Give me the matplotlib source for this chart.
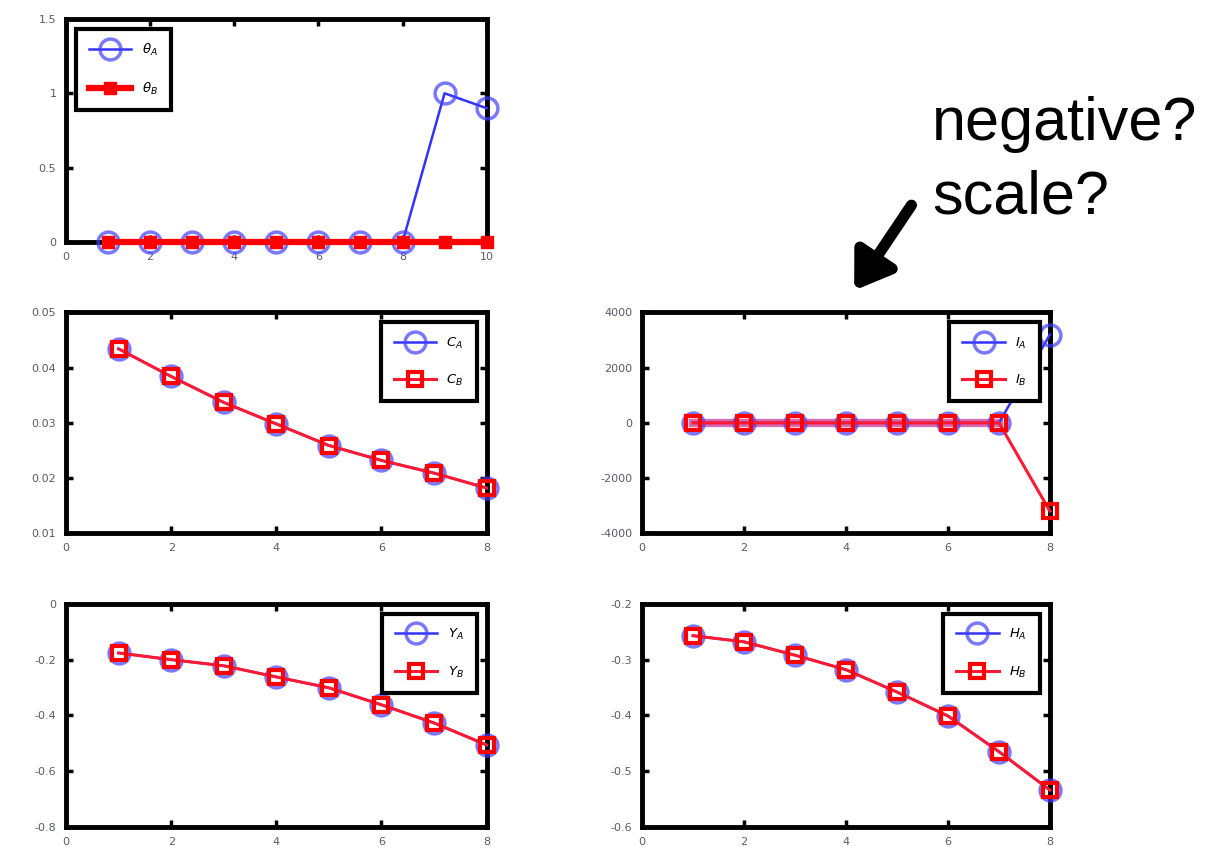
import matplotlib.pyplot as plt
import matplotlib.patches as mpatches
import matplotlib.ticker as mticker
import numpy as np

plt.rcParams['axes.unicode_minus'] = False

# values
x10 = np.arange(1, 11)
x8 = np.arange(1, 9)

theta_a = [0, 0, 0, 0, 0, 0, 0, 0, 1.0, 0.9]
theta_b = [0, 0, 0, 0, 0, 0, 0, 0, 0, 0]

c_a = [0.0434, 0.0384, 0.0337, 0.0298, 0.0259, 0.0232, 0.0209, 0.0182]
c_b = [0.0434, 0.0384, 0.0337, 0.0298, 0.0259, 0.0232, 0.0209, 0.0182]

i_a = [0, 0, 0, 0, 0, 0, 0, 3200]
i_b = [0, 0, 0, 0, 0, 0, 0, -3200]

y_a = [-0.176, -0.200, -0.222, -0.262, -0.301, -0.362, -0.427, -0.506]
y_b = [-0.176, -0.200, -0.222, -0.262, -0.301, -0.362, -0.427, -0.506]

h_a = [-0.257, -0.268, -0.292, -0.318, -0.358, -0.401, -0.465, -0.534]
h_b = [-0.257, -0.268, -0.292, -0.318, -0.358, -0.401, -0.465, -0.534]

fig = plt.figure(figsize=(12.12, 8.56), dpi=100)

ax_th = fig.add_axes([0.0545, 0.717, 0.347, 0.261])
ax_c = fig.add_axes([0.0545, 0.377, 0.347, 0.258])
ax_i = fig.add_axes([0.5297, 0.377, 0.3366, 0.258])
ax_y = fig.add_axes([0.0545, 0.034, 0.347, 0.2605])
ax_h = fig.add_axes([0.5297, 0.034, 0.3366, 0.2605])


def draw(ax, x, a, b, la, lb, filled=False, loc="upper right"):
    ax.plot(x, a, "-o", color=(0.2, 0.2, 1.0), lw=1.8, ms=15, mfc="none",
            mec=(0.25, 0.25, 1.0, 0.7), mew=2.5, clip_on=False, label=la, zorder=3)
    if filled:
        ax.plot(x, b, "-s", color="red", lw=4.5, ms=9, mfc="red", mec="red",
                clip_on=False, label=lb, zorder=4)
    else:
        ax.plot(x, b, "-s", color=(1.0, 0.1, 0.2), lw=2.2, ms=10, mfc="none",
                mec="red", mew=3, clip_on=False, label=lb, zorder=4)
    for s in ax.spines.values():
        s.set_linewidth(3.5)
    ax.tick_params(direction="in", length=5, width=2.5, top=True, right=True,
                   labelsize=8, labelcolor="#5a5a6a", pad=7)
    ax.xaxis.set_major_formatter(mticker.FormatStrFormatter("%g"))
    ax.yaxis.set_major_formatter(mticker.FormatStrFormatter("%g"))
    leg = ax.legend(loc=loc, fontsize=9.5, handlelength=3.2, handletextpad=0.8,
                    fancybox=False, framealpha=1, borderaxespad=0.75,
                    labelspacing=1.7, borderpad=1.0)
    leg.get_frame().set_edgecolor("black")
    leg.get_frame().set_linewidth(3)


draw(ax_th, x10, theta_a, theta_b, r"$\theta_A$", r"$\theta_B$", filled=True, loc="upper left")
ax_th.set_xlim(0, 10)
ax_th.set_ylim(0, 1.5)
ax_th.set_xticks(range(0, 11, 2))
ax_th.set_yticks([0, 0.5, 1, 1.5])

draw(ax_c, x8, c_a, c_b, r"$C_A$", r"$C_B$")
ax_c.set_xlim(0, 8)
ax_c.set_ylim(0.01, 0.05)
ax_c.set_xticks(range(0, 9, 2))
ax_c.set_yticks([0.01, 0.02, 0.03, 0.04, 0.05])

draw(ax_i, x8, i_a, i_b, r"$I_A$", r"$I_B$")
# overlapping A/B lines show as a thick pink band where they coincide
ax_i.plot(x8[:7], i_a[:7], color=(0.85, 0.42, 0.7), lw=6, zorder=2.5)
ax_i.set_xlim(0, 8)
ax_i.set_ylim(-4000, 4000)
ax_i.set_xticks(range(0, 9, 2))
ax_i.set_yticks([-4000, -2000, 0, 2000, 4000])

draw(ax_y, x8, y_a, y_b, r"$Y_A$", r"$Y_B$")
ax_y.set_xlim(0, 8)
ax_y.set_ylim(-0.8, 0)
ax_y.set_xticks(range(0, 9, 2))
ax_y.set_yticks([-0.8, -0.6, -0.4, -0.2, 0])

draw(ax_h, x8, h_a, h_b, r"$H_A$", r"$H_B$")
ax_h.set_xlim(0, 8)
ax_h.set_ylim(-0.6, -0.2)
ax_h.set_xticks(range(0, 9, 2))
ax_h.set_yticks([-0.6, -0.5, -0.4, -0.3, -0.2])

# annotation pointing at the I plot
fig.text(0.769, 0.8364, "negative?", fontsize=44, family="Liberation Sans",
         ha="left", va="baseline")
fig.text(0.769, 0.750, "scale?", fontsize=44, family="Liberation Sans",
         ha="left", va="baseline")
fig.patches.append(mpatches.FancyArrowPatch(
    (0.7533, 0.763), (0.7035, 0.658), transform=fig.transFigure,
    arrowstyle="-|>,head_length=1.5,head_width=1.0", color="black", lw=8,
    mutation_scale=14))

fig.savefig("out.png", dpi=100)
